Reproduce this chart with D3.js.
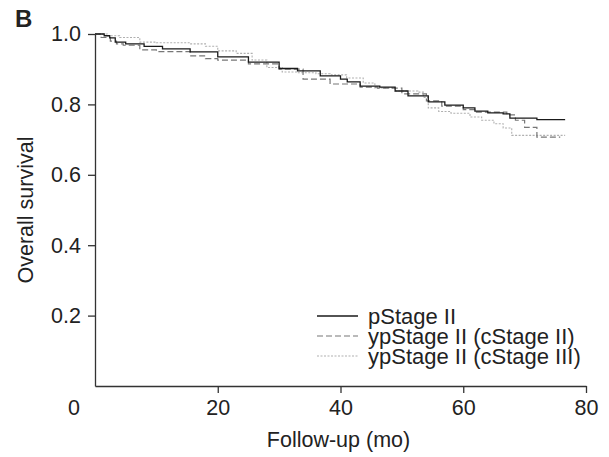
<!DOCTYPE html>
<html>
  <head>
    <meta charset="utf-8">
    <script src="https://d3js.org/d3.v7.min.js"></script>
    <style>
      body {
        margin: 0;
        background: #fff;
      }
      svg text {
        font-family: "Liberation Sans", Arial, sans-serif;
        fill: #222;
      }
    </style>
  </head>
<body>
  <script type="text/javascript">
    // survival curves (months, proportion alive)
    var pMonths = [0, 1.5, 2.4, 3.3, 5, 8, 11, 15.5, 20, 25, 30, 33, 36.7, 40, 41.1, 43.2, 46.4,
                   48.9, 51, 54.3, 57, 60, 61.9, 64, 66.5, 67.6, 72, 76.6];
    var pSurv = [1.0, 0.995, 0.989, 0.977, 0.972, 0.965, 0.958, 0.949, 0.935, 0.92, 0.902, 0.895, 0.881,
                 0.872, 0.864, 0.852, 0.849, 0.838, 0.824, 0.807, 0.798, 0.79, 0.781, 0.776, 0.773,
                 0.761, 0.757, 0.757];

    var ypMonths = [0, 1, 2.5, 3.5, 4.6, 7.3, 10, 15.5, 18, 20, 25, 30, 33.9, 38.3, 43.2, 46, 50, 54,
                    56.5, 60, 62, 67.1, 68.5, 70, 72, 75.8];
    var ypSurv = [1.0, 0.99, 0.98, 0.972, 0.968, 0.955, 0.95, 0.938, 0.93, 0.926, 0.915, 0.9, 0.872,
                  0.858, 0.849, 0.846, 0.83, 0.81, 0.795, 0.785, 0.778, 0.77, 0.755, 0.735, 0.707, 0.707];

    var yp3Months = [0, 2, 4, 7.3, 10, 15.5, 18, 20, 23, 25.6, 28, 30.5, 33, 36, 38.3, 41, 43.7, 45.6,
                     48.9, 52.6, 53.5, 54.3, 56, 58, 61.1, 63, 65, 66.5, 67.9, 76.6];
    var yp3Surv = [1.0, 0.995, 0.99, 0.977, 0.975, 0.972, 0.965, 0.952, 0.945, 0.926, 0.905, 0.892, 0.89,
                   0.887, 0.884, 0.875, 0.861, 0.847, 0.838, 0.835, 0.82, 0.79, 0.78, 0.775, 0.764,
                   0.755, 0.745, 0.733, 0.712, 0.712];

    var seriesNames = ["pStage II", "ypStage II (cStage II)", "ypStage II (cStage III)"];
    var xTicks = [20, 40, 60, 80];
    var yTicks = [0.2, 0.4, 0.6, 0.8, 1.0];

    var width = 609, height = 457;
    var plotLeft = 95, plotRight = 586, plotTop = 34, plotBottom = 386;
    var fontSize = "21.5px";

    var svg = d3.select("body")
      .append("svg")
        .attr("width", width)
        .attr("height", height);

    var x = d3.scaleLinear().domain([0, 80]).range([plotLeft, plotRight]);
    var y = d3.scaleLinear().domain([0, 1]).range([plotBottom, plotTop]);

    // axes
    var xAxis = svg.append("g")
      .attr("transform", "translate(0," + plotBottom + ")")
      .call(d3.axisBottom(x).tickValues(xTicks).tickSize(7).tickSizeOuter(0).tickPadding(6));
    var yAxis = svg.append("g")
      .attr("transform", "translate(" + plotLeft + ",0)")
      .call(d3.axisLeft(y).tickValues(yTicks).tickSize(7).tickSizeOuter(0).tickPadding(7)
        .tickFormat(d3.format(".1f")));

    [xAxis, yAxis].forEach(function (g) {
      g.selectAll("path, line").attr("stroke", "#333").attr("stroke-width", 1.3);
      g.selectAll("text").style("font-size", fontSize).attr("fill", "#222");
    });
    xAxis.selectAll("text").attr("dy", "0.75em");

    // shared origin label
    svg.append("text")
      .attr("x", x(0) - 15)
      .attr("y", plotBottom + 29)
      .attr("text-anchor", "end")
      .style("font-size", fontSize)
      .text("0");

    svg.append("text")
      .attr("x", (plotLeft + plotRight) / 2 - 2)
      .attr("y", 447)
      .attr("text-anchor", "middle")
      .style("font-size", fontSize)
      .text("Follow-up (mo)");

    svg.append("text")
      .attr("transform", "translate(33," + ((plotTop + plotBottom) / 2) + ") rotate(-90)")
      .attr("text-anchor", "middle")
      .style("font-size", fontSize)
      .text("Overall survival");

    svg.append("text")
      .attr("x", 15)
      .attr("y", 27)
      .style("font-size", "24px")
      .style("font-weight", "bold")
      .text("B");

    // curves
    var styles = [
      {stroke: "#1a1a1a", width: 1.3, dash: null},
      {stroke: "#777", width: 1.2, dash: "6,3"},
      {stroke: "#b0b0b0", width: 1.1, dash: "2,1.5"}
    ];
    var curves = [
      d3.zip(pMonths, pSurv),
      d3.zip(ypMonths, ypSurv),
      d3.zip(yp3Months, yp3Surv)
    ];

    var line = d3.line()
      .x(function (d) { return x(d[0]); })
      .y(function (d) { return y(d[1]); })
      .curve(d3.curveStepAfter);

    // lighter curves first so the solid one stays on top
    [2, 1, 0].forEach(function (i) {
      svg.append("path")
        .datum(curves[i])
        .attr("fill", "none")
        .attr("stroke", styles[i].stroke)
        .attr("stroke-width", styles[i].width)
        .attr("stroke-dasharray", styles[i].dash)
        .attr("d", line);
    });

    // legend
    var legend = svg.append("g");
    seriesNames.forEach(function (name, i) {
      var ly = 316 + i * 20;
      legend.append("line")
        .attr("x1", 317).attr("x2", 358)
        .attr("y1", ly).attr("y2", ly)
        .attr("stroke", styles[i].stroke)
        .attr("stroke-width", styles[i].width)
        .attr("stroke-dasharray", styles[i].dash);
      legend.append("text")
        .attr("x", 368)
        .attr("y", ly)
        .attr("dy", "0.35em")
        .style("font-size", "22px")
        .text(name);
    });
  </script>
</body>
</html>
